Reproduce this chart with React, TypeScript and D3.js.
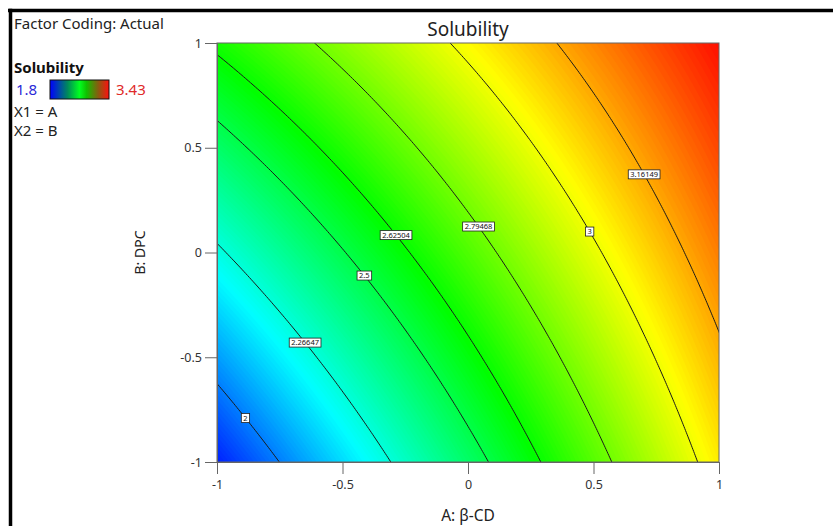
import React, { useEffect, useRef } from "react";
import * as d3 from "d3";

// fitted model in coded units: Intercept, A, B, AB
const coefs = [2.739, 0.49, 0.288, -0.11];
const contourLevels = [2, 2.26647, 2.5, 2.62504, 2.79468, 3, 3.16149];
// B value (coded) where each contour label sits
const labelAtB = [-0.79, -0.43, -0.11, 0.083, 0.124, 0.1, 0.373];
const axisTicks = [-1, -0.5, 0, 0.5, 1];
const legendMin = 1.8;
const legendMax = 3.43;

const model = (a: number, b: number) =>
  coefs[0] + coefs[1] * a + coefs[2] * b + coefs[3] * a * b;

export default function App() {
  const ref = useRef<SVGSVGElement>(null);

  useEffect(() => {
    const width = 833;
    const height = 526;
    const left = 217, right = 719, top = 43, bottom = 462;
    const font = "'Noto Sans', 'Open Sans', sans-serif";

    const svg = d3.select(ref.current);
    svg.selectAll("*").remove();

    const x = d3.scaleLinear().domain([-1, 1]).range([left, right]);
    const y = d3.scaleLinear().domain([-1, 1]).range([bottom, top]);

    const span = legendMax - legendMin;
    const color = d3.scaleLinear<string>()
      .domain([0, 0.25, 0.5, 0.75, 1].map(f => legendMin + f * span))
      .range(["#0000ff", "#00ffff", "#00ff00", "#ffff00", "#ff0000"])
      .clamp(true);

    // grid for filled bands
    const nx = 250, ny = 210;
    const values: number[] = new Array(nx * ny);
    for (let j = 0; j < ny; j++) {
      const b = 1 - ((j + 0.5) * 2) / ny;
      for (let i = 0; i < nx; i++) {
        const a = -1 + ((i + 0.5) * 2) / nx;
        values[j * nx + i] = model(a, b);
      }
    }
    const gx = d3.scaleLinear().domain([0, nx]).range([left, right]);
    const gy = d3.scaleLinear().domain([0, ny]).range([top, bottom]);
    const path = d3.geoPath(d3.geoTransform({
      point(px: number, py: number) { this.stream.point(gx(px), gy(py)); }
    }));

    const step = 0.01;
    const thresholds = d3.range(legendMin, legendMax + step, step);
    const bands = d3.contours().size([nx, ny]).thresholds(thresholds)(values);

    const defs = svg.append("defs");
    defs.append("clipPath").attr("id", "plotclip")
      .append("rect").attr("x", left).attr("y", top)
      .attr("width", right - left).attr("height", bottom - top);

    const plot = svg.append("g").attr("clip-path", "url(#plotclip)");
    plot.append("rect")
      .attr("x", left).attr("y", top)
      .attr("width", right - left).attr("height", bottom - top)
      .attr("fill", color(d3.min(values) as number));
    plot.selectAll("path.band")
      .data(bands)
      .join("path")
      .attr("class", "band")
      .attr("d", d => path(d as any))
      .attr("fill", d => color(d.value + step / 2));

    // contour lines: solve model for A along B
    const line = d3.line<[number, number]>().x(d => x(d[0])).y(d => y(d[1]));
    const bs = d3.range(-1.05, 1.06, 0.01);
    contourLevels.forEach(level => {
      const pts: [number, number][] = bs.map(b => [
        (level - coefs[0] - coefs[2] * b) / (coefs[1] + coefs[3] * b), b
      ]);
      plot.append("path")
        .attr("d", line(pts))
        .attr("fill", "none")
        .attr("stroke", "#1a1a1a")
        .attr("stroke-width", 1);
    });

    // contour labels
    contourLevels.forEach((level, k) => {
      const b = labelAtB[k];
      const a = (level - coefs[0] - coefs[2] * b) / (coefs[1] + coefs[3] * b);
      const g = svg.append("g").attr("transform", `translate(${x(a)},${y(b)})`);
      const box = g.append("rect");
      const t = g.append("text")
        .attr("text-anchor", "middle")
        .attr("dy", "0.35em")
        .attr("font-family", font)
        .attr("font-size", 7.5)
        .attr("fill", "#111")
        .text(String(level));
      const w = (t.node() as SVGTextElement).getComputedTextLength() + 4;
      box.attr("x", -w / 2).attr("y", -4.5).attr("width", w).attr("height", 9)
        .attr("fill", "#fff").attr("stroke", "#222").attr("stroke-width", 0.8);
    });

    // plot frame
    svg.append("rect")
      .attr("x", left).attr("y", top)
      .attr("width", right - left).attr("height", bottom - top)
      .attr("fill", "none").attr("stroke", "#666").attr("stroke-width", 1);

    // axes
    const fmt = (d: d3.NumberValue) => String(d);
    const yAxis = svg.append("g").attr("transform", `translate(${left},0)`)
      .call(d3.axisLeft(y).tickValues(axisTicks).tickSize(12).tickSizeOuter(0).tickPadding(3).tickFormat(fmt));
    const xAxis = svg.append("g").attr("transform", `translate(0,${bottom})`)
      .call(d3.axisBottom(x).tickValues(axisTicks).tickSize(12).tickSizeOuter(0).tickPadding(6).tickFormat(fmt));
    [yAxis, xAxis].forEach(ax => {
      ax.select(".domain").attr("stroke", "#666");
      ax.selectAll(".tick line").attr("stroke", "#666");
      ax.selectAll(".tick text").attr("fill", "#333").attr("font-size", 12.5).attr("font-family", font);
    });

    // titles
    svg.append("text").attr("x", (left + right) / 2).attr("y", 36)
      .attr("text-anchor", "middle").attr("font-family", font).attr("font-size", 19)
      .attr("fill", "#222").text("Solubility");
    svg.append("text").attr("x", (left + right) / 2).attr("y", 521)
      .attr("text-anchor", "middle").attr("font-family", font).attr("font-size", 15.5)
      .attr("fill", "#222").text("A: β-CD");
    svg.append("text").attr("transform", `translate(145,${(top + bottom) / 2}) rotate(-90)`)
      .attr("text-anchor", "middle").attr("font-family", font).attr("font-size", 14)
      .attr("fill", "#222").text("B: DPC");

    // legend block
    const leg = svg.append("g").attr("font-family", font).attr("font-size", 15).attr("fill", "#222");
    leg.append("text").attr("x", 14).attr("y", 29).text("Factor Coding: Actual");
    leg.append("text").attr("x", 14).attr("y", 73).attr("font-weight", "bold").attr("fill", "#111").text("Solubility");
    leg.append("text").attr("x", 16).attr("y", 95).attr("fill", "#2a2ad8").text(String(legendMin));
    leg.append("text").attr("x", 116).attr("y", 95).attr("fill", "#e02a2a").text(String(legendMax));
    leg.append("text").attr("x", 14).attr("y", 117).text("X1 = A");
    leg.append("text").attr("x", 14).attr("y", 136).text("X2 = B");

    const grad = defs.append("linearGradient").attr("id", "leggrad");
    [[0, "#0000ff"], [0.3, "#008a5a"], [0.5, "#00ff20"], [0.62, "#10c000"], [0.82, "#8a5a10"], [1, "#ff1010"]]
      .forEach(([o, c]) => grad.append("stop").attr("offset", o as number).attr("stop-color", c as string));
    leg.append("rect").attr("x", 50).attr("y", 80).attr("width", 59).attr("height", 19)
      .attr("fill", "url(#leggrad)").attr("stroke", "#111").attr("stroke-width", 1);

    // outer frame (top and left only)
    svg.append("line").attr("x1", 8).attr("x2", width).attr("y1", 10.5).attr("y2", 10.5)
      .attr("stroke", "#000").attr("stroke-width", 3.5);
    svg.append("line").attr("x1", 10.5).attr("x2", 10.5).attr("y1", 8.75).attr("y2", height)
      .attr("stroke", "#000").attr("stroke-width", 3.5);
  }, []);

  return (
    <svg ref={ref} width={833} height={526}
      style={{ position: "absolute", left: 0, top: 0, background: "#fff" }} />
  );
}
